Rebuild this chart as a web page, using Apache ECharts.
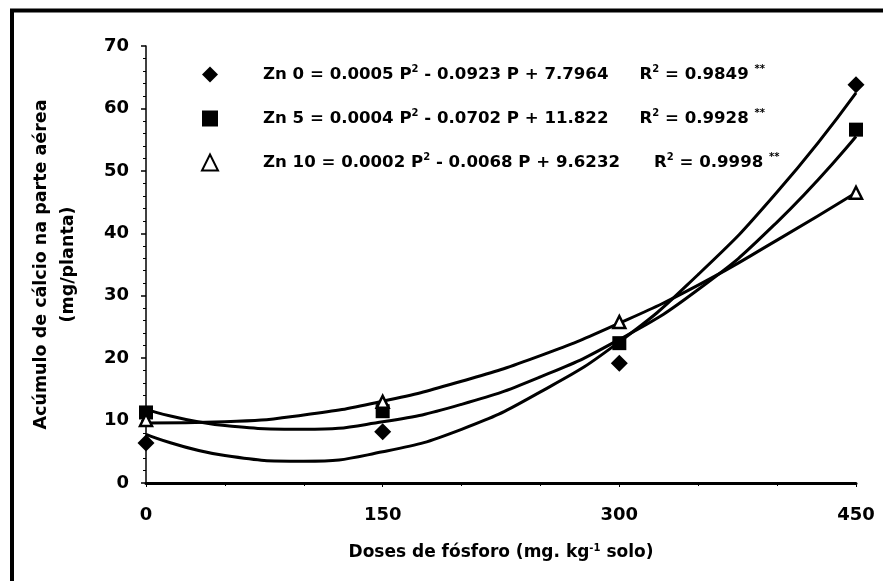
<!DOCTYPE html>
<html>
<head>
<meta charset="utf-8">
<script src="https://cdn.jsdelivr.net/npm/echarts@6/dist/echarts.min.js"></script>
<style>
    html, body { margin: 0; padding: 0; background: #fff; }
    #chart { width: 883px; height: 581px; }
</style>
</head>
<body>
<div id="chart"></div>
<script>
// doses de fosforo (mg/kg)
var doses = [0, 150, 300, 450];
// pontos observados
var zn0 = [6.4, 8.2, 19.2, 63.8];
var zn5 = [11.3, 11.5, 22.4, 56.6];
var zn10 = [10.1, 13.0, 25.8, 46.5];

// curvas ajustadas, a cada 50 mg/kg
var curveX = [0, 50, 100, 150, 200, 250, 300, 350, 400, 450];
var curveZn0 = [7.8, 4.4, 3.5, 5.0, 8.6, 14.6, 22.6, 33.4, 46.6, 62.5];
var curveZn5 = [11.8, 9.2, 8.6, 9.8, 12.6, 17.0, 23.0, 31.0, 41.8, 55.5];
var curveZn10 = [9.6, 9.8, 10.9, 13.1, 16.3, 20.4, 25.6, 31.7, 38.9, 46.5];

var names = ['Zn 0', 'Zn 5', 'Zn 10'];
var coefA = ['0.0005', '0.0004', '0.0002'];
var coefB = ['0.0923', '0.0702', '0.0068'];
var coefC = ['7.7964', '11.822', '9.6232'];
var r2 = ['0.9849', '0.9928', '0.9998'];

function pairs(xs, ys) {
    var out = [];
    for (var i = 0; i < xs.length; i++) {
        out.push([xs[i], ys[i]]);
    }
    return out;
}

var chart = echarts.init(document.getElementById('chart'));
var font = '"DejaVu Sans", sans-serif';

var option = {
    backgroundColor: '#fff',
    animation: false,
    textStyle: { fontFamily: font },
    graphic: [{
        type: 'rect',
        shape: { x: 12, y: 10.5, width: 950, height: 650 },
        style: { fill: 'none', stroke: '#000', lineWidth: 4 }
    }],
    grid: { left: 146, right: 27, top: 46, bottom: 98 },
    legend: {
        orient: 'vertical',
        left: 196,
        top: 59,
        itemWidth: 16,
        itemHeight: 16,
        itemGap: 25,
        selectedMode: false,
        data: [
            { name: 'Zn 0', icon: 'diamond' },
            { name: 'Zn 5', icon: 'rect' },
            { name: 'Zn 10', icon: 'triangle' }
        ],
        formatter: function (name) {
            var i = names.indexOf(name);
            var gap = i === 2 ? 'gap2' : 'gap';
            return '{sp|}{t|' + name + ' = ' + coefA[i] + ' P}{sup|2}{t| - ' + coefB[i] +
                ' P + ' + coefC[i] + '}{' + gap + '|}{t|R}{sup|2}{t| = ' + r2[i] + ' }{st|**}';
        },
        textStyle: {
            rich: {
                sp: { width: 40 },
                t: { fontSize: 16.6, fontWeight: 'bold', color: '#000', lineHeight: 21, fontFamily: font },
                sup: { fontSize: 10, fontWeight: 'bold', color: '#000', verticalAlign: 'top', lineHeight: 21, fontFamily: font },
                st: { fontSize: 10, fontWeight: 'bold', color: '#000', verticalAlign: 'top', lineHeight: 21, fontFamily: font },
                gap: { width: 31 },
                gap2: { width: 34 }
            }
        }
    },
    xAxis: {
        type: 'value',
        min: 0,
        max: 450,
        interval: 150,
        name: 'Doses de fósforo (mg. kg{sup|-1} solo)',
        nameLocation: 'middle',
        nameGap: 60,
        nameTextStyle: {
            fontSize: 17,
            fontWeight: 'bold',
            color: '#000',
            rich: {
                sup: { fontSize: 10, fontWeight: 'bold', color: '#000', padding: [0, 0, 10, 0] }
            }
        },
        axisLine: { lineStyle: { color: '#000', width: 3 } },
        axisTick: { length: 4, lineStyle: { color: '#000', width: 1 } },
        minorTick: { show: true, splitNumber: 3, length: 3, lineStyle: { color: '#000' } },
        splitLine: { show: false },
        axisLabel: { fontSize: 18, fontWeight: 'bold', color: '#000', margin: 23 }
    },
    yAxis: {
        type: 'value',
        min: 0,
        max: 70,
        interval: 10,
        name: 'Acúmulo de cálcio na parte aérea\n(mg/planta)',
        nameLocation: 'middle',
        nameGap: 64,
        nameTextStyle: { fontSize: 17.5, fontWeight: 'bold', color: '#000', lineHeight: 27 },
        axisLine: { show: true, lineStyle: { color: '#000', width: 1.5 } },
        axisTick: { show: true, length: 5, lineStyle: { color: '#000', width: 1.5 } },
        minorTick: { show: true, splitNumber: 5, length: 3, lineStyle: { color: '#000' } },
        splitLine: { show: false },
        axisLabel: { fontSize: 18, fontWeight: 'bold', color: '#000', margin: 17 }
    },
    series: [
        {
            name: 'curva Zn 0', type: 'line', smooth: 0.5, symbol: 'none', z: 2,
            lineStyle: { color: '#000', width: 3 },
            data: pairs(curveX, curveZn0)
        },
        {
            name: 'curva Zn 5', type: 'line', smooth: 0.5, symbol: 'none', z: 2,
            lineStyle: { color: '#000', width: 3 },
            data: pairs(curveX, curveZn5)
        },
        {
            name: 'curva Zn 10', type: 'line', smooth: 0.5, symbol: 'none', z: 2,
            lineStyle: { color: '#000', width: 3 },
            data: pairs(curveX, curveZn10)
        },
        {
            name: 'Zn 0', type: 'scatter', symbol: 'diamond', symbolSize: 17, z: 3,
            itemStyle: { color: '#000', opacity: 1 },
            data: pairs(doses, zn0)
        },
        {
            name: 'Zn 5', type: 'scatter', symbol: 'rect', symbolSize: 14, z: 3,
            itemStyle: { color: '#000', opacity: 1 },
            data: pairs(doses, zn5)
        },
        {
            name: 'Zn 10', type: 'scatter', symbol: 'triangle', symbolSize: 12, z: 4,
            itemStyle: { color: '#fff', borderColor: '#000', borderWidth: 2.5, opacity: 1 },
            data: pairs(doses, zn10)
        }
    ]
};

chart.setOption(option);
</script>
</body>
</html>
